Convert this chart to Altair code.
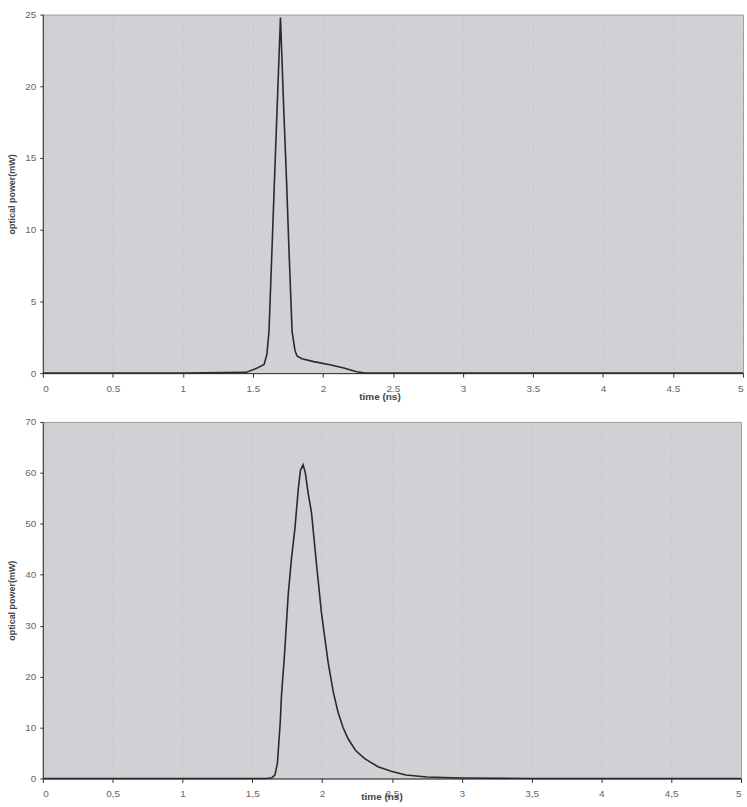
import altair as alt
import pandas as pd

# Top pulse (time in ns, optical power in mW)
t_top = [0.0, 1.0, 1.45, 1.53, 1.58, 1.60, 1.615, 1.64, 1.66, 1.68, 1.697,
         1.72, 1.74, 1.76, 1.78, 1.80, 1.815, 1.85, 1.934, 2.05, 2.15, 2.24, 2.3, 5.0]
p_top = [0.0, 0.0, 0.05, 0.35, 0.6, 1.3, 2.9, 9.6, 15.0, 20.3, 24.8,
         18.5, 13.5, 8.0, 2.9, 1.6, 1.2, 1.0, 0.8, 0.58, 0.35, 0.1, 0.0, 0.0]

# Bottom pulse
t_bot = [0.0, 1.6, 1.64, 1.662, 1.68, 1.70, 1.709, 1.73, 1.757, 1.78, 1.805,
         1.83, 1.845, 1.864, 1.88, 1.90, 1.924, 1.96, 1.995, 2.043, 2.08, 2.114,
         2.15, 2.186, 2.24, 2.305, 2.4, 2.495, 2.6, 2.75, 3.0, 3.5, 5.0]
p_bot = [0.0, 0.0, 0.15, 0.65, 3.0, 11.0, 16.3, 24.0, 36.0, 43.0, 49.0,
         57.0, 60.5, 61.6, 60.0, 56.0, 52.2, 42.0, 32.6, 22.8, 17.0, 13.0,
         10.0, 7.8, 5.5, 3.9, 2.3, 1.4, 0.7, 0.3, 0.1, 0.0, 0.0]

x_ticks = [0, 0.5, 1, 1.5, 2, 2.5, 3, 3.5, 4, 4.5, 5]
y_ticks_top = [0, 5, 10, 15, 20, 25]
y_ticks_bot = [0, 10, 20, 30, 40, 50, 60, 70]

df_top = pd.DataFrame({"t": t_top, "p": p_top})
df_bot = pd.DataFrame({"t": t_bot, "p": p_bot})

FONT = "Liberation Sans"


def panel(df, ymax, yticks, w, h, label_expr, title_x, title_y):
    return alt.Chart(df).mark_line(color="#2a2a2a", strokeWidth=1.6).encode(
        x=alt.X("t:Q", scale=alt.Scale(domain=[0, 5], nice=False),
                axis=alt.Axis(values=x_ticks, title="time (ns)", format="~g",
                              labelExpr=label_expr,
                              grid=True, gridColor="#b0b0b4", gridOpacity=0.45,
                              gridDash=[2, 3],
                              labelColor="#666666", labelFontSize=10, labelFont=FONT,
                              labelPadding=6,
                              titleColor="#444444", titleFontSize=10, titleFont=FONT,
                              titleFontWeight="bold", titleX=title_x, titleY=title_y,
                              domainColor="#333333", tickColor="#333333", tickSize=4)),
        y=alt.Y("p:Q", scale=alt.Scale(domain=[0, ymax], nice=False),
                axis=alt.Axis(values=yticks, title="optical power(mW)", grid=False,
                              labelColor="#666666", labelFontSize=10, labelFont=FONT,
                              labelPadding=4,
                              titleColor="#444444", titleFontSize=9, titleFont=FONT,
                              titleFontWeight="bold", titlePadding=8,
                              domainColor="#333333", tickColor="#333333", tickSize=3)),
    ).properties(width=w, height=h)


top = panel(df_top, 25, y_ticks_top, 703, 360, "datum.label", 338, 18)
bot = panel(df_bot, 70, y_ticks_bot, 701, 358,
            "replace(datum.label, '.', ',')", 340, 13)

chart = alt.vconcat(top, bot, spacing=14).properties(
    padding={"left": 7, "top": 7, "right": 0, "bottom": 0},
    background="white",
).configure_view(
    fill="#d1d1d5", stroke="#9a9a9a", strokeWidth=1
)

chart.save("out.html", embed_options={"renderer": "svg", "actions": False})
